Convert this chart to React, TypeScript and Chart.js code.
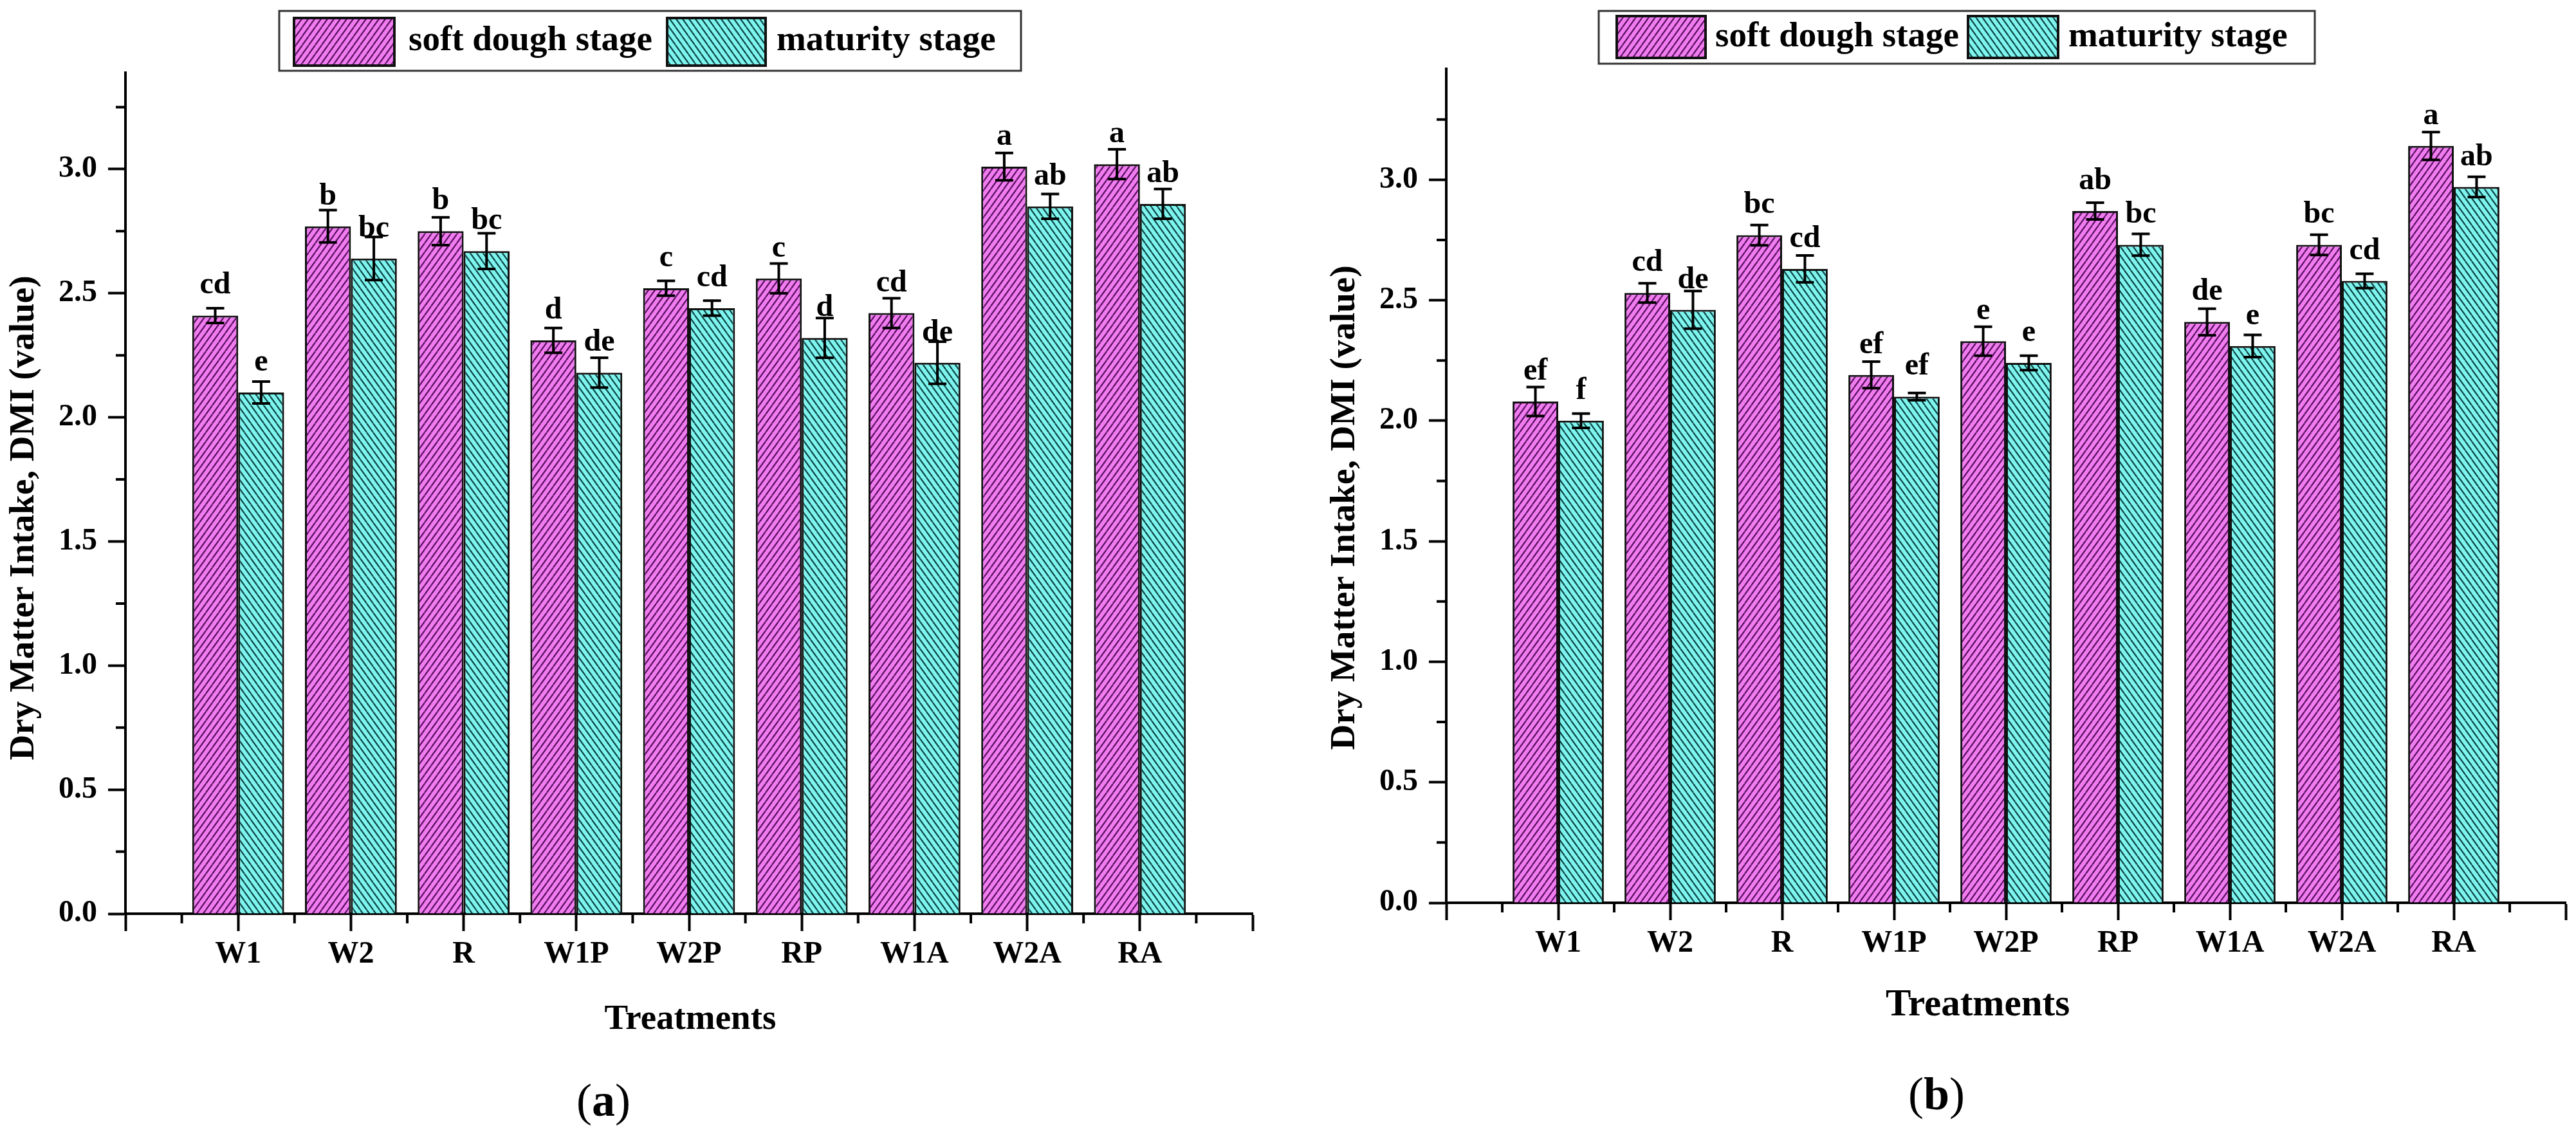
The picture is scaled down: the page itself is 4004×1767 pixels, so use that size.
import React, { useEffect, useRef } from 'react';
import { Chart, registerables } from 'chart.js';
Chart.register(...registerables);

const categories = ['W1', 'W2', 'R', 'W1P', 'W2P', 'RP', 'W1A', 'W2A', 'RA'];
const seriesNames = ['soft dough stage', 'maturity stage'];
const yTickValues = [0, 0.5, 1, 1.5, 2, 2.5, 3];

// Panel (a)
const softDoughA = [2.41, 2.77, 2.75, 2.31, 2.52, 2.56, 2.42, 3.01, 3.02];
const softDoughErrA = [0.03, 0.065, 0.056, 0.05, 0.03, 0.06, 0.06, 0.055, 0.06];
const maturityA = [2.1, 2.64, 2.67, 2.18, 2.44, 2.32, 2.22, 2.85, 2.86];
const maturityErrA = [0.044, 0.087, 0.072, 0.06, 0.03, 0.08, 0.085, 0.05, 0.06];
const softDoughLettersA = ['cd', 'b', 'b', 'd', 'c', 'c', 'cd', 'a', 'a'];
const maturityLettersA = ['e', 'bc', 'bc', 'de', 'cd', 'd', 'de', 'ab', 'ab'];

// Panel (b)
const softDoughB = [2.08, 2.53, 2.77, 2.19, 2.33, 2.87, 2.41, 2.73, 3.14];
const softDoughErrB = [0.06, 0.04, 0.042, 0.055, 0.06, 0.035, 0.055, 0.042, 0.058];
const maturityB = [2.0, 2.46, 2.63, 2.1, 2.24, 2.73, 2.31, 2.58, 2.97];
const maturityErrB = [0.03, 0.078, 0.056, 0.015, 0.03, 0.045, 0.046, 0.03, 0.042];
const softDoughLettersB = ['ef', 'cd', 'bc', 'ef', 'e', 'ab', 'de', 'bc', 'a'];
const maturityLettersB = ['f', 'de', 'cd', 'ef', 'e', 'bc', 'e', 'cd', 'ab'];

const FONT = "'Liberation Serif', 'Times New Roman', serif";
const PINK = '#f07cf0';
const PINK_LINE = '#5a1060';
const CYAN = '#7ef4ee';
const CYAN_LINE = '#0d4545';

function makePattern(fill: string, line: string, dir: number) {
  const w = 10, h = 14;
  const c = document.createElement('canvas');
  c.width = w; c.height = h;
  const g = c.getContext('2d') as CanvasRenderingContext2D;
  g.fillStyle = fill; g.fillRect(0, 0, w, h);
  g.strokeStyle = line; g.lineWidth = 2.2;
  g.beginPath();
  for (const o of [-w, 0, w]) {
    if (dir === 1) { g.moveTo(o, h); g.lineTo(o + w, 0); }
    else { g.moveTo(o, 0); g.lineTo(o + w, h); }
  }
  g.stroke();
  return g.createPattern(c, 'repeat') as CanvasPattern;
}

type Panel = {
  soft: number[]; softErr: number[]; mat: number[]; matErr: number[];
  softLetters: string[]; matLetters: string[];
  yMax: number; left: number; right: number; top: number; bottom: number;
  legend: { box: number[]; s1: number[]; t1: number; s2: number[]; t2: number; cy: number };
  yTitle: number[]; xTitle: number[]; xTitleSize: number; caption: number[]; capLetter: string;
};

const W = 2002, H = 1767;

const panelA: Panel = {
  soft: softDoughA, softErr: softDoughErrA, mat: maturityA, matErr: maturityErrA,
  softLetters: softDoughLettersA, matLetters: maturityLettersA,
  yMax: 3.39, left: 195, right: 1947, top: 112.5, bottom: 1420,
  legend: { box: [434, 17, 1587, 110], s1: [457, 28, 613, 102], t1: 635, s2: [1037, 28, 1190, 102], t2: 1207, cy: 64 },
  yTitle: [38, 805], xTitle: [1073, 1585], xTitleSize: 55, caption: [938, 1715], capLetter: 'a',
};
const panelB: Panel = {
  soft: softDoughB, softErr: softDoughErrB, mat: maturityB, matErr: maturityErrB,
  softLetters: softDoughLettersB, matLetters: maturityLettersB,
  yMax: 3.46, left: 246, right: 1986, top: 107, bottom: 1403,
  legend: { box: [483, 17, 1596, 99], s1: [511, 25, 649, 90], t1: 664, s2: [1057, 25, 1197, 90], t2: 1213, cy: 58 },
  yTitle: [89, 789], xTitle: [1072, 1563], xTitleSize: 59, caption: [1008, 1705], capLetter: 'b',
};

function PanelChart({ p, offsetX }: { p: Panel; offsetX: number }) {
  const ref = useRef<HTMLCanvasElement | null>(null);
  useEffect(() => {
    const canvas = ref.current;
    if (!canvas) return;
    const pinkPat = makePattern(PINK, PINK_LINE, 1);
    const cyanPat = makePattern(CYAN, CYAN_LINE, -1);
    const errs = [p.softErr, p.matErr];
    const letters = [p.softLetters, p.matLetters];

    const decor = {
      id: 'decor',
      afterDatasetsDraw(chart: any) {
        const ctx = chart.ctx as CanvasRenderingContext2D;
        const ys = chart.scales.y;
        ctx.save();
        chart.data.datasets.forEach((ds: any, di: number) => {
          const meta = chart.getDatasetMeta(di);
          meta.data.forEach((bar: any, i: number) => {
            const v = ds.data[i].y;
            const e = errs[di][i];
            const x = bar.x;
            const yt = ys.getPixelForValue(v + e);
            const yb = ys.getPixelForValue(v - e);
            ctx.strokeStyle = '#000';
            ctx.lineWidth = 4;
            ctx.beginPath();
            ctx.moveTo(x, yt); ctx.lineTo(x, yb);
            ctx.moveTo(x - 14, yt); ctx.lineTo(x + 14, yt);
            ctx.moveTo(x - 14, yb); ctx.lineTo(x + 14, yb);
            ctx.stroke();
            ctx.fillStyle = '#000';
            ctx.font = `bold 48px ${FONT}`;
            ctx.textAlign = 'center';
            ctx.textBaseline = 'alphabetic';
            ctx.fillText(letters[di][i], x, ys.getPixelForValue(v) - 34);
          });
        });
        ctx.restore();
      },
      afterDraw(chart: any) {
        const ctx = chart.ctx as CanvasRenderingContext2D;
        const xs = chart.scales.x, ys = chart.scales.y;
        const ca = chart.chartArea;
        ctx.save();
        // minor ticks
        ctx.strokeStyle = '#000';
        ctx.lineWidth = 4;
        ctx.beginPath();
        for (let v = 0.5; v < 10; v += 1) {
          const px = xs.getPixelForValue(v);
          ctx.moveTo(px, ca.bottom); ctx.lineTo(px, ca.bottom + 15);
        }
        for (let v = 0.25; v < p.yMax; v += 0.5) {
          const py = ys.getPixelForValue(v);
          ctx.moveTo(ca.left - 15, py); ctx.lineTo(ca.left, py);
        }
        ctx.stroke();
        // legend
        const L = p.legend;
        ctx.fillStyle = '#fff';
        ctx.fillRect(L.box[0], L.box[1], L.box[2] - L.box[0], L.box[3] - L.box[1]);
        ctx.strokeStyle = '#333';
        ctx.lineWidth = 3;
        ctx.strokeRect(L.box[0], L.box[1], L.box[2] - L.box[0], L.box[3] - L.box[1]);
        const sw = [L.s1, L.s2];
        const pats = [pinkPat, cyanPat];
        const tx = [L.t1, L.t2];
        for (let k = 0; k < 2; k++) {
          const s = sw[k];
          ctx.fillStyle = pats[k];
          ctx.fillRect(s[0], s[1], s[2] - s[0], s[3] - s[1]);
          ctx.strokeStyle = '#111';
          ctx.lineWidth = 4;
          ctx.strokeRect(s[0], s[1], s[2] - s[0], s[3] - s[1]);
          ctx.fillStyle = '#000';
          ctx.font = `bold 55px ${FONT}`;
          ctx.textAlign = 'left';
          ctx.textBaseline = 'middle';
          ctx.fillText(chart.data.datasets[k].label, tx[k], L.cy);
        }
        // axis titles
        ctx.fillStyle = '#000';
        ctx.font = `bold ${p.xTitleSize}px ${FONT}`;
        ctx.textAlign = 'center';
        ctx.textBaseline = 'middle';
        ctx.fillText('Treatments', p.xTitle[0], p.xTitle[1]);
        ctx.save();
        ctx.translate(p.yTitle[0], p.yTitle[1]);
        ctx.rotate(-Math.PI / 2);
        ctx.font = `bold 55px ${FONT}`;
        ctx.fillText('Dry Matter Intake, DMI (value)', 0, 0);
        ctx.restore();
        // caption
        const parts: [string, string][] = [['(', `72px ${FONT}`], [p.capLetter, `bold 72px ${FONT}`], [')', `72px ${FONT}`]];
        let total = 0;
        const widths = parts.map(([t, f]) => { ctx.font = f; const w = ctx.measureText(t).width; total += w; return w; });
        let cx = p.caption[0] - total / 2;
        ctx.textAlign = 'left';
        parts.forEach(([t, f], i) => { ctx.font = f; ctx.fillText(t, cx, p.caption[1]); cx += widths[i]; });
        ctx.restore();
      },
    };

    const tickFont = { family: FONT, size: 48, weight: 'bold' as const };
    const chart = new Chart(canvas, {
      type: 'bar',
      data: {
        datasets: [
          { label: seriesNames[0], data: p.soft.map((v, i) => ({ x: i + 1, y: v })), backgroundColor: pinkPat, borderColor: '#111', borderWidth: 3 },
          { label: seriesNames[1], data: p.mat.map((v, i) => ({ x: i + 1, y: v })), backgroundColor: cyanPat, borderColor: '#111', borderWidth: 3 },
        ],
      } as any,
      options: {
        animation: false,
        responsive: false,
        devicePixelRatio: 1,
        barPercentage: 1,
        categoryPercentage: 0.815,
        layout: { padding: { left: 0, top: p.top, right: W - p.right, bottom: 0 } },
        plugins: { legend: { display: false }, tooltip: { enabled: false } },
        scales: {
          x: {
            type: 'linear', min: 0, max: 10, offset: false,
            grid: { offset: false, drawOnChartArea: false, drawTicks: true, tickLength: 27, tickWidth: 4, tickColor: '#000' },
            border: { display: true, width: 4, color: '#000' },
            ticks: {
              stepSize: 1, autoSkip: false, maxRotation: 0, minRotation: 0, padding: 8, color: '#000', font: tickFont,
              callback: (v: any) => (Number.isInteger(v) && v >= 1 && v <= 9 ? categories[v - 1] : ''),
            },
            afterFit: (s: any) => { s.height = H - p.bottom; },
          },
          y: {
            type: 'linear', min: 0, max: p.yMax,
            grid: { drawOnChartArea: false, drawTicks: true, tickLength: 27, tickWidth: 4, tickColor: '#000' },
            border: { display: true, width: 4, color: '#000' },
            ticks: {
              stepSize: 0.5, includeBounds: false, padding: 17, color: '#000', font: tickFont,
              callback: (v: any) => (yTickValues.includes(Number(v)) ? Number(v).toFixed(1) : ''),
            },
            afterFit: (s: any) => { s.width = p.left; },
          },
        },
      } as any,
      plugins: [decor],
    });
    return () => chart.destroy();
  }, [p]);
  return (
    <canvas ref={ref} width={W} height={H}
      style={{ position: 'absolute', left: offsetX, top: 0, width: W, height: H }} />
  );
}

export default function App() {
  return (
    <div style={{ position: 'fixed', left: 0, top: 0, width: 4004, height: 1767, background: '#fff', overflow: 'hidden' }}>
      <PanelChart p={panelA} offsetX={0} />
      <PanelChart p={panelB} offsetX={2002} />
    </div>
  );
}
